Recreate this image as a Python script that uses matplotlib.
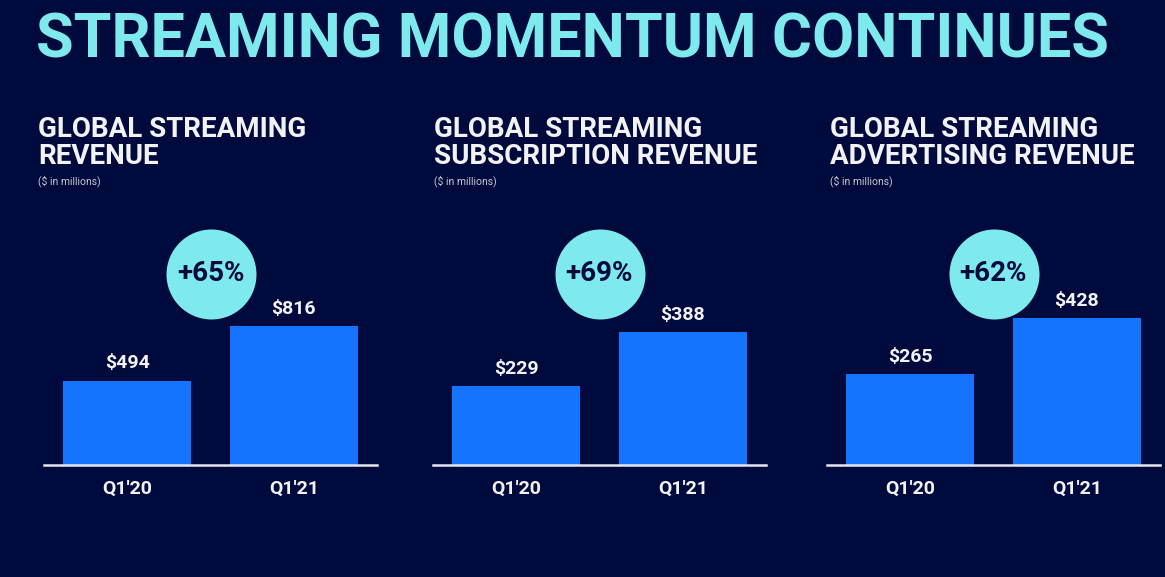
import matplotlib.pyplot as plt

W, H = 1165, 577
BG = '#000a3c'
BAR = '#1473ff'
CYAN = '#7eeaee'
WHITE = '#f2f2f5'

title = 'STREAMING MOMENTUM CONTINUES'
panel_titles = ['GLOBAL STREAMING\nREVENUE',
                'GLOBAL STREAMING\nSUBSCRIPTION REVENUE',
                'GLOBAL STREAMING\nADVERTISING REVENUE']
quarters = ["Q1'20", "Q1'21"]
total_rev = [494, 816]
subs_rev = [229, 388]
ads_rev = [265, 428]
growth = ['+65%', '+69%', '+62%']

series = [total_rev, subs_rev, ads_rev]
# y limits chosen so bar heights follow the slide's per-panel scale
ylims = [1437, 714, 714]
lefts = [44, 433, 827]
title_x = [38, 434, 830]

plt.rcParams['font.family'] = ['Roboto', 'DejaVu Sans']

fig = plt.figure(figsize=(W / 100, H / 100), dpi=100, facecolor=BG)


def fx(px):
    return px / W


def fy(py):
    return 1 - py / H


fig.text(fx(36), fy(40), title, color=CYAN, fontsize=44, fontweight='bold',
         va='center', ha='left')

for i, vals in enumerate(series):
    ax = fig.add_axes([fx(lefts[i]), fy(465), 333 / W, 245 / H])
    ax.set_facecolor(BG)
    ax.bar([0, 1], vals, width=0.77, color=BAR)
    ax.set_xlim(-0.5, 1.5)
    ax.set_ylim(0, ylims[i])
    for s in ['top', 'right', 'left']:
        ax.spines[s].set_visible(False)
    ax.spines['bottom'].set_color('#e6e6ee')
    ax.spines['bottom'].set_linewidth(1.8)
    ax.set_yticks([])
    ax.set_xticks([0, 1], quarters)
    ax.tick_params(axis='x', length=0, pad=11, labelsize=14, labelcolor=WHITE)
    for lab in ax.get_xticklabels():
        lab.set_fontweight('bold')
    for x, v in zip([0, 1], vals):
        ax.annotate(f'${v}', (x, v), xytext=(0, 6), textcoords='offset points',
                    ha='center', va='bottom', color=WHITE, fontsize=14,
                    fontweight='bold')
    ax.scatter([0.5], [0.78], s=4200, color=CYAN, transform=ax.get_xaxis_transform(),
               clip_on=False, zorder=3, linewidths=0)
    ax.text(0.5, 0.78, growth[i], transform=ax.get_xaxis_transform(), ha='center',
            va='center', color=BG, fontsize=20, fontweight='bold', zorder=4)

    fig.text(fx(title_x[i]), fy(116), panel_titles[i], color=WHITE, fontsize=20,
             fontweight='bold', va='top', ha='left', linespacing=1.02)
    fig.text(fx(title_x[i]), fy(181), '($ in millions)', color='#c8c8d2',
             fontsize=7.5, va='center', ha='left')

fig.savefig('out.png', dpi=100, facecolor=BG)
